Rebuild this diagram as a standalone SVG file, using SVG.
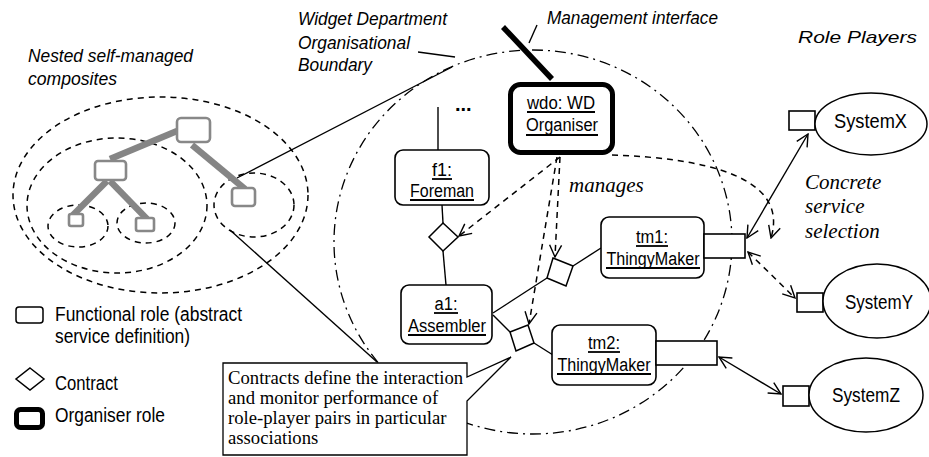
<svg xmlns="http://www.w3.org/2000/svg" width="929" height="457" viewBox="0 0 929 457">
<style>
.sans{font-family:"Liberation Sans",Arial,sans-serif;}
.it{font-style:italic;}
.serif{font-family:"Liberation Serif","Times New Roman",serif;}
.lbl{font-family:"Liberation Sans",Arial,sans-serif;font-size:18px;text-anchor:middle;}
.ul{stroke:#000;stroke-width:1.8;}
.dash{fill:none;stroke:#000;stroke-width:1.5;stroke-dasharray:6 5;}
.dashdot{fill:none;stroke:#000;stroke-width:1.3;stroke-dasharray:11 5 2 5;}
.ln{fill:none;stroke:#000;stroke-width:1.4;}
.role{fill:#fff;stroke:#000;stroke-width:1.6;}
.gbox{fill:#fff;stroke:#888;stroke-width:2.6;}
.gln{stroke:#858585;stroke-width:6.5;stroke-linecap:butt;}
.contract{fill:#fff;stroke:#000;stroke-width:1.5;}
.port{fill:#fff;stroke:#000;stroke-width:1.6;}
.player{fill:#fff;stroke:#000;stroke-width:1.5;}
</style>
<defs>
<marker id="arr" viewBox="0 0 14 14" refX="13" refY="7" markerWidth="14" markerHeight="14" markerUnits="userSpaceOnUse" orient="auto-start-reverse">
<path d="M1,1 L13,7 L1,13" fill="none" stroke="#000" stroke-width="1.4"/>
</marker>
</defs>
<rect width="929" height="457" fill="#fff"/>

<!-- Nested self-managed composites -->
<g id="nested">
<ellipse class="dash" cx="160.5" cy="195" rx="147.5" ry="98"/>
<ellipse class="dash" cx="117" cy="205.5" rx="90" ry="67.5"/>
<ellipse class="dash" cx="78" cy="226" rx="30" ry="21"/>
<ellipse class="dash" cx="146" cy="223" rx="29" ry="20"/>
<ellipse class="dash" cx="254" cy="205" rx="40" ry="32"/>
<line class="gln" x1="177" y1="131" x2="110" y2="159"/>
<line class="gln" x1="192" y1="145" x2="245" y2="189"/>
<line class="gln" x1="107" y1="181" x2="73" y2="215"/>
<line class="gln" x1="110" y1="181" x2="147" y2="219"/>
<rect class="gbox" x="177" y="118" width="33" height="24" rx="4"/>
<rect class="gbox" x="95" y="161" width="31" height="19" rx="3"/>
<rect class="gbox" x="232" y="188" width="23" height="18" rx="3"/>
<rect class="gbox" x="69" y="214" width="14" height="12" rx="2"/>
<rect class="gbox" x="136" y="218" width="18" height="13" rx="2"/>
</g>

<!-- Organisational boundary -->
<g id="boundary">
<ellipse class="dashdot" cx="533" cy="242" rx="199" ry="192"/>
</g>

<!-- Connectors -->
<g id="connectors">
<line class="ln" x1="237" y1="178" x2="452" y2="67"/>
<line class="ln" x1="230" y1="230" x2="377" y2="362"/>
<line x1="503" y1="27" x2="552" y2="79" stroke="#000" stroke-width="5.5"/>
<line class="ln" x1="537" y1="25" x2="529" y2="43" stroke-width="1.2"/>
<line class="ln" x1="418" y1="52" x2="455" y2="57" stroke-width="1.2"/>
<line class="ln" x1="438" y1="107" x2="438" y2="150"/>
<line class="ln" x1="442" y1="205" x2="443" y2="223"/>
<line class="ln" x1="443" y1="251" x2="446" y2="285"/>
<line class="ln" x1="493" y1="313" x2="547" y2="278"/>
<line class="ln" x1="573" y1="266" x2="601" y2="248"/>
<line class="ln" x1="493" y1="315" x2="510" y2="332"/>
<line class="ln" x1="534" y1="343" x2="553" y2="355"/>
<line class="dash" x1="560" y1="157" x2="459" y2="236" marker-end="url(#arr)"/>
<line class="dash" x1="560" y1="157" x2="555" y2="257" marker-end="url(#arr)"/>
<line class="dash" x1="557" y1="157" x2="529" y2="324" marker-end="url(#arr)"/>
<path class="dash" d="M612,155 C700,158 790,175 771,238" marker-end="url(#arr)"/>
<line class="ln" x1="747" y1="238" x2="808" y2="134" marker-start="url(#arr)" marker-end="url(#arr)"/>
<line class="dash" x1="748" y1="252" x2="795" y2="298" marker-start="url(#arr)" marker-end="url(#arr)"/>
<line class="ln" x1="719" y1="357" x2="781" y2="394" marker-start="url(#arr)" marker-end="url(#arr)"/>
</g>

<!-- Callout -->
<g id="callout">
<path d="M223,363 H467 V377 L511,357 L467,401 V455 H223 Z" fill="#fff" stroke="#000" stroke-width="1.3"/>
<text class="serif" font-size="18.7" x="228" y="384">Contracts define the interaction</text>
<text class="serif" font-size="18.7" x="228" y="404">and monitor performance of</text>
<text class="serif" font-size="18.7" x="228" y="424">role-player pairs in particular</text>
<text class="serif" font-size="18.7" x="228" y="444">associations</text>
</g>

<!-- Roles -->
<g id="wdo">
<rect x="510.5" y="84.5" width="102" height="68" rx="10" fill="#fff" stroke="#000" stroke-width="5"/>
<text class="lbl" x="561" y="109" textLength="68" lengthAdjust="spacingAndGlyphs">wdo: WD</text>
<line class="ul" x1="527" y1="112" x2="595" y2="112"/>
<text class="lbl" x="562" y="131" textLength="72" lengthAdjust="spacingAndGlyphs">Organiser</text>
<line class="ul" x1="526" y1="135" x2="598" y2="135"/>
</g>
<g id="f1">
<rect class="role" x="395" y="150" width="94" height="55" rx="8"/>
<text class="lbl" x="442" y="176" textLength="20" lengthAdjust="spacingAndGlyphs">f1:</text>
<line class="ul" x1="432" y1="179" x2="452" y2="179"/>
<text class="lbl" x="442" y="197" textLength="64" lengthAdjust="spacingAndGlyphs">Foreman</text>
<line class="ul" x1="410" y1="200" x2="474" y2="200"/>
</g>
<g id="ellipsis">
<text class="sans" x="455" y="111" font-size="20" font-weight="bold">...</text>
</g>
<g id="a1">
<rect class="role" x="401" y="285" width="91" height="59" rx="8"/>
<text class="lbl" x="446" y="310" textLength="23" lengthAdjust="spacingAndGlyphs">a1:</text>
<line class="ul" x1="434" y1="313" x2="458" y2="313"/>
<text class="lbl" x="447" y="332" textLength="78" lengthAdjust="spacingAndGlyphs">Assembler</text>
<line class="ul" x1="408" y1="335" x2="486" y2="335"/>
</g>
<g id="tm1">
<rect class="role" x="601" y="217" width="103" height="61" rx="8"/>
<rect class="port" x="704" y="234" width="41" height="24"/>
<text class="lbl" x="652" y="243" textLength="32" lengthAdjust="spacingAndGlyphs">tm1:</text>
<line class="ul" x1="636" y1="246" x2="668" y2="246"/>
<text class="lbl" x="653" y="265" textLength="93" lengthAdjust="spacingAndGlyphs">ThingyMaker</text>
<line class="ul" x1="606" y1="268" x2="700" y2="268"/>
</g>
<g id="tm2">
<rect class="role" x="552" y="325" width="104" height="60" rx="8"/>
<rect class="port" x="656" y="341" width="61" height="24"/>
<text class="lbl" x="604" y="349" textLength="32" lengthAdjust="spacingAndGlyphs">tm2:</text>
<line class="ul" x1="588" y1="352" x2="620" y2="352"/>
<text class="lbl" x="604" y="371" textLength="93" lengthAdjust="spacingAndGlyphs">ThingyMaker</text>
<line class="ul" x1="557" y1="374" x2="651" y2="374"/>
</g>

<!-- Contracts -->
<g id="contract-fa"><polygon class="contract" points="443,223 458,237 443,251 429,237"/></g>
<g id="contract-at1"><polygon class="contract" points="553,258 573,266 566,286 547,278"/></g>
<g id="contract-at2"><polygon class="contract" points="510,332 528,325 534,343 516,351"/></g>

<!-- Role players -->
<g id="systemx">
<rect class="port" x="789" y="111" width="26" height="19"/>
<ellipse class="player" cx="871" cy="124" rx="56" ry="31"/>
<text class="sans" x="834" y="128" font-size="20" textLength="73" lengthAdjust="spacingAndGlyphs">SystemX</text>
</g>
<g id="systemy">
<rect class="port" x="797" y="293" width="26" height="19"/>
<ellipse class="player" cx="877" cy="301" rx="54" ry="37"/>
<text class="sans" x="845" y="309" font-size="20" textLength="68" lengthAdjust="spacingAndGlyphs">SystemY</text>
</g>
<g id="systemz">
<rect class="port" x="783" y="386" width="26" height="20"/>
<ellipse class="player" cx="866" cy="395" rx="57" ry="37"/>
<text class="sans" x="832" y="402" font-size="20" textLength="68" lengthAdjust="spacingAndGlyphs">SystemZ</text>
</g>

<!-- Annotations -->
<g id="labels">
<text class="sans it" x="28" y="62" font-size="19" textLength="165" lengthAdjust="spacingAndGlyphs">Nested self-managed</text>
<text class="sans it" x="28" y="85" font-size="19" textLength="89" lengthAdjust="spacingAndGlyphs">composites</text>
<text class="sans it" x="298" y="25" font-size="18" textLength="149" lengthAdjust="spacingAndGlyphs">Widget Department</text>
<text class="sans it" x="298" y="49" font-size="18" textLength="112" lengthAdjust="spacingAndGlyphs">Organisational</text>
<text class="sans it" x="298" y="71" font-size="18" textLength="74" lengthAdjust="spacingAndGlyphs">Boundary</text>
<text class="sans it" x="547" y="24" font-size="18" textLength="171" lengthAdjust="spacingAndGlyphs">Management interface</text>
<text class="sans it" x="798" y="43" font-size="17" textLength="119" lengthAdjust="spacingAndGlyphs">Role Players</text>
<text class="serif it" x="569" y="192" font-size="21">manages</text>
<text class="serif it" x="805" y="189" font-size="21">Concrete</text>
<text class="serif it" x="805" y="213" font-size="21">service</text>
<text class="serif it" x="805" y="238" font-size="21">selection</text>
</g>

<!-- Legend -->
<g id="legend">
<rect x="16" y="307" width="27" height="16" rx="3" fill="#fff" stroke="#000" stroke-width="1.5"/>
<text class="sans" x="55" y="321" font-size="20" textLength="187" lengthAdjust="spacingAndGlyphs">Functional role (abstract</text>
<text class="sans" x="55" y="343" font-size="20" textLength="135" lengthAdjust="spacingAndGlyphs">service definition)</text>
<polygon points="30,368 44,379 30,390 16,379" fill="#fff" stroke="#000" stroke-width="1.5"/>
<text class="sans" x="55" y="390" font-size="20" textLength="63" lengthAdjust="spacingAndGlyphs">Contract</text>
<rect x="16.5" y="409.5" width="26" height="18" rx="4" fill="#fff" stroke="#000" stroke-width="5"/>
<text class="sans" x="55" y="422" font-size="20" textLength="110" lengthAdjust="spacingAndGlyphs">Organiser role</text>
</g>
</svg>
